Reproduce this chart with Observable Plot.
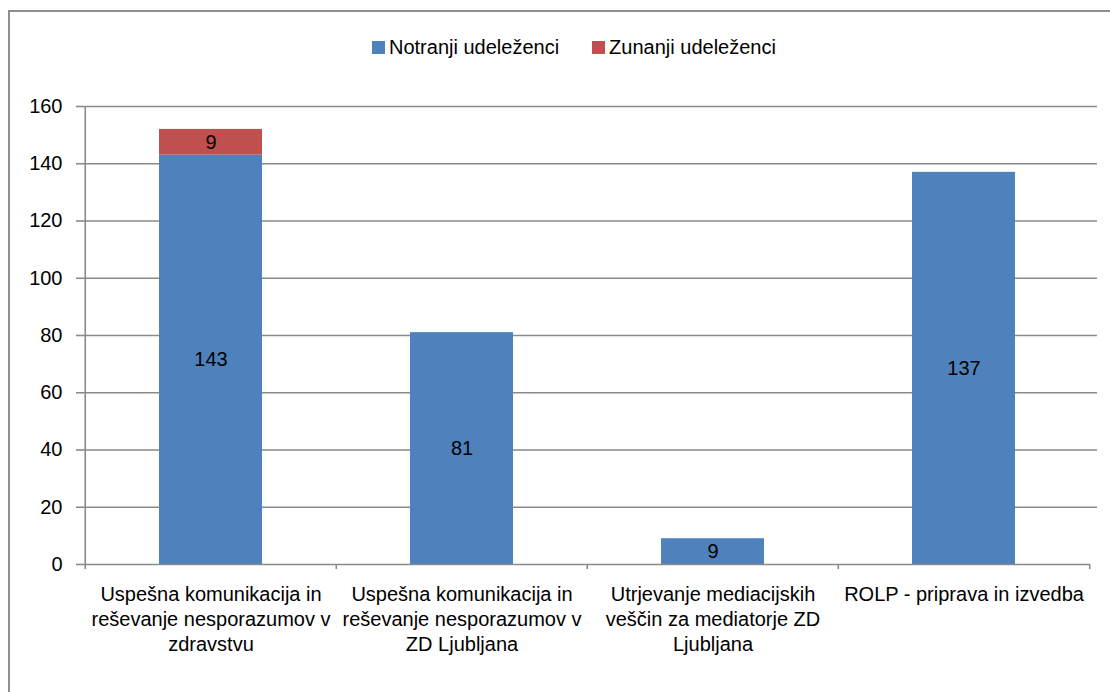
<!DOCTYPE html>
<html>
<head>
<meta charset="utf-8">
<script src="https://cdn.jsdelivr.net/npm/d3@7"></script>
<script src="https://cdn.jsdelivr.net/npm/@observablehq/plot@0.6"></script>
<style>
  html, body { margin: 0; padding: 0; background: #fff; overflow: hidden; }
  #wrap { position: relative; width: 1110px; height: 692px; overflow: hidden; font-family: 'Liberation Sans', Arial, sans-serif; }
  #border { position: absolute; left: 8px; top: 10px; width: 1200px; height: 800px; border-left: 2px solid #8f8f8f; border-top: 2px solid #8f8f8f; }
  #chart { position: absolute; left: 0; top: 0; }
  #legend { position: absolute; left: 372px; top: 36px; display: flex; align-items: center; font-size: 20px; color: #000; white-space: nowrap; }
  .item { display: flex; align-items: center; }
  .sw { width: 13px; height: 13px; display: inline-block; margin-right: 4px; }
</style>
</head>
<body>
<div id="wrap">
  <div id="border"></div>
  <div id="chart"></div>
  <div id="legend"></div>
</div>
<script>
const categories = [
  "Uspešna komunikacija in reševanje nesporazumov v zdravstvu",
  "Uspešna komunikacija in reševanje nesporazumov v ZD Ljubljana",
  "Utrjevanje mediacijskih veščin za mediatorje ZD Ljubljana",
  "ROLP - priprava in izvedba"
];
const tickLabels = [
  "Uspešna komunikacija in\nreševanje nesporazumov v\nzdravstvu",
  "Uspešna komunikacija in\nreševanje nesporazumov v\nZD Ljubljana",
  "Utrjevanje mediacijskih\nveščin za mediatorje ZD\nLjubljana",
  "ROLP - priprava in izvedba"
];
const series = ["Notranji udeleženci", "Zunanji udeleženci"];
const internal = [143, 81, 9, 137];
const external = [9, 0, 0, 0];
const colors = ["#4F81BD", "#C0504D"];
const yTicks = [0, 20, 40, 60, 80, 100, 120, 140, 160];

const data = categories.flatMap((c, i) => [
  {cat: c, series: series[0], value: internal[i]},
  {cat: c, series: series[1], value: external[i]}
]).filter(d => d.value > 0);

const labelOf = new Map(categories.map((c, i) => [c, tickLabels[i]]));

const W = 1110, H = 692, mL = 84, mR = 20, mT = 106, mB = 128;
const step = (W - mL - mR) / categories.length;
const pxPerUnit = (H - mT - mB) / 160;
const tickLen = 5 / pxPerUnit;
const axisColor = "#8a8a8a";

const chart = Plot.plot({
  width: W, height: H,
  marginLeft: mL, marginRight: mR, marginTop: mT, marginBottom: mB,
  x: {domain: categories, paddingInner: 0.59, paddingOuter: 0.295},
  y: {domain: [0, 160]},
  color: {domain: series, range: colors},
  style: {fontFamily: "'Liberation Sans', Arial, sans-serif", fontSize: "20px", color: "#000", background: "transparent", overflow: "visible"},
  marks: [
    Plot.ruleY(yTicks.filter(t => t > 0), {stroke: axisColor, strokeWidth: 1.4, insetRight: -7}),
    Plot.barY(data, Plot.stackY({x: "cat", y: "value", fill: "series", z: "series", order: series})),
    Plot.text(data, Plot.stackY({x: "cat", y: "value", z: "series", order: series, text: d => String(d.value), fill: "#000", fontSize: 20})),
    Plot.ruleY([0], {stroke: axisColor, strokeWidth: 1.6}),
    Plot.ruleX([categories[0]], {dx: -step / 2, y1: -tickLen, y2: 160, stroke: axisColor, strokeWidth: 1.6}),
    Plot.ruleX(categories.slice(1), {dx: -step / 2, y1: -tickLen, y2: 0, stroke: axisColor, strokeWidth: 1.6}),
    Plot.ruleX([categories[categories.length - 1]], {dx: step / 2, y1: -tickLen, y2: 0, stroke: axisColor, strokeWidth: 1.6}),
    Plot.axisY({ticks: yTicks, tickSize: 8, tickPadding: 14, fontSize: 20, stroke: axisColor, strokeWidth: 1.6, label: null}),
    Plot.axisX({tickSize: 0, tickPadding: 19, fontSize: 20, lineHeight: 1.25, tickFormat: d => labelOf.get(d), label: null})
  ]
});
document.getElementById("chart").appendChild(chart);

const legend = document.getElementById("legend");
series.forEach((s, i) => {
  const item = document.createElement("span");
  item.className = "item";
  item.style.marginRight = i === 0 ? "33px" : "0";
  const sw = document.createElement("span");
  sw.className = "sw";
  sw.style.background = colors[i];
  item.appendChild(sw);
  item.appendChild(document.createTextNode(s));
  legend.appendChild(item);
});
</script>
</body>
</html>
